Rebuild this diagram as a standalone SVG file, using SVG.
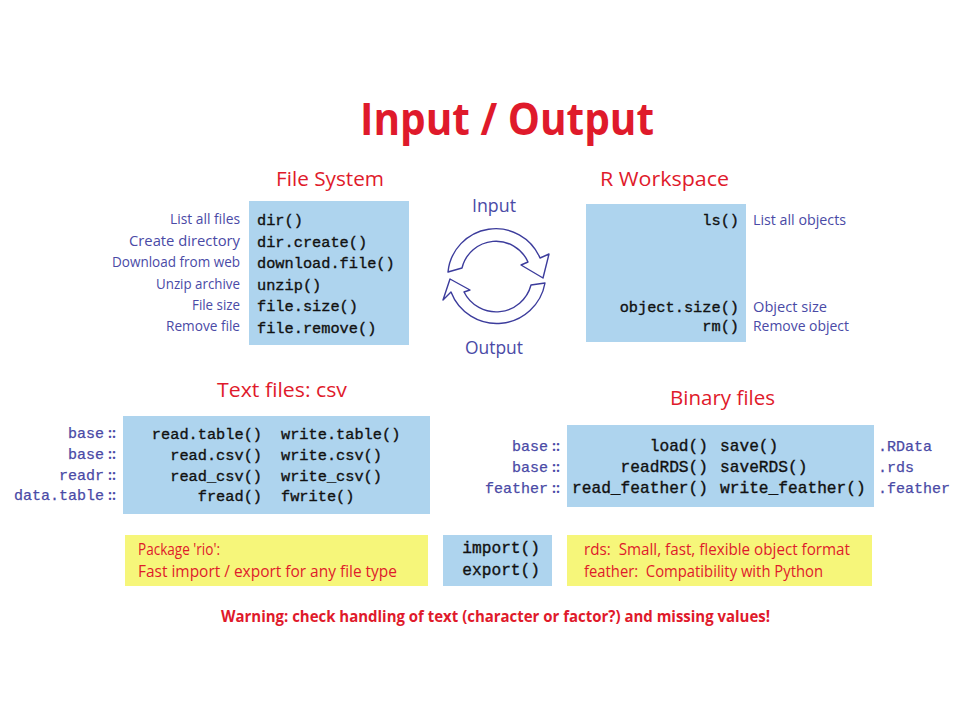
<svg xmlns="http://www.w3.org/2000/svg" width="960" height="720" viewBox="0 0 960 720">
<style>
.title{font-family:"Open Sans","Liberation Sans",sans-serif;font-weight:bold;font-size:44px;fill:#df1a2b}
.h{font-family:"Open Sans","Liberation Sans",sans-serif;font-size:20px;fill:#df1a2b}
.lbl{font-family:"Open Sans","Liberation Sans",sans-serif;font-size:14.5px;fill:#4a4aa6}
.io{font-family:"Open Sans","Liberation Sans",sans-serif;font-size:18px;fill:#4a4aa6}
.code{font-family:"Liberation Mono",monospace;font-size:15.3px;fill:#111;stroke:#111;stroke-width:0.35}
.codeL{font-family:"Liberation Mono",monospace;font-size:16.2px;fill:#111;stroke:#111;stroke-width:0.35}
.pkg{font-family:"Liberation Mono",monospace;font-size:15px;fill:#4a4aa6;stroke:#4a4aa6;stroke-width:0.25}
.sep{font-family:"Open Sans","Liberation Sans",sans-serif;font-weight:bold;font-size:14px;fill:#4a4aa6}
.box{fill:#aed4ee}
.note{fill:#f6f67a}
.nt{font-family:"Open Sans","Liberation Sans",sans-serif;font-size:15.5px;fill:#df1a2b}
.warn{font-family:"Open Sans","Liberation Sans",sans-serif;font-weight:bold;font-size:16px;fill:#df1a2b}
.arr{fill:#ffffff;stroke:#3c3c9c;stroke-width:1.4;stroke-linejoin:round}
</style>
<rect width="960" height="720" fill="#ffffff"/>
<g id="title">
<text class="title" x="360" y="135" textLength="294" lengthAdjust="spacingAndGlyphs">Input / Output</text>
</g>
<g id="file-system">
<text class="h" x="276" y="186" textLength="108" lengthAdjust="spacingAndGlyphs">File System</text>
<rect class="box" x="249" y="201" width="160" height="144"/>
<text class="code" x="257" y="225">dir()</text>
<text class="code" x="257" y="246.5">dir.create()</text>
<text class="code" x="257" y="268">download.file()</text>
<text class="code" x="257" y="289.5">unzip()</text>
<text class="code" x="257" y="311">file.size()</text>
<text class="code" x="257" y="332.5">file.remove()</text>
<text class="lbl" x="170" y="224" textLength="70" lengthAdjust="spacingAndGlyphs">List all files</text>
<text class="lbl" x="129" y="246" textLength="111" lengthAdjust="spacingAndGlyphs">Create directory</text>
<text class="lbl" x="112" y="267" textLength="128" lengthAdjust="spacingAndGlyphs">Download from web</text>
<text class="lbl" x="156" y="289" textLength="84" lengthAdjust="spacingAndGlyphs">Unzip archive</text>
<text class="lbl" x="192" y="310" textLength="48" lengthAdjust="spacingAndGlyphs">File size</text>
<text class="lbl" x="166" y="331" textLength="74" lengthAdjust="spacingAndGlyphs">Remove file</text>
</g>
<g id="r-workspace">
<text class="h" x="600" y="186" textLength="129" lengthAdjust="spacingAndGlyphs">R Workspace</text>
<rect class="box" x="586" y="204" width="160" height="138"/>
<text class="code" x="739" y="225" text-anchor="end">ls()</text>
<text class="code" x="739" y="312" text-anchor="end">object.size()</text>
<text class="code" x="739" y="331" text-anchor="end">rm()</text>
<text class="lbl" x="753" y="225" textLength="93" lengthAdjust="spacingAndGlyphs">List all objects</text>
<text class="lbl" x="753" y="312" textLength="74" lengthAdjust="spacingAndGlyphs">Object size</text>
<text class="lbl" x="753" y="331" textLength="96" lengthAdjust="spacingAndGlyphs">Remove object</text>
</g>
<g id="io-labels">
<text class="io" x="472" y="212" textLength="44" lengthAdjust="spacingAndGlyphs">Input</text>
<text class="io" x="465" y="354" textLength="58" lengthAdjust="spacingAndGlyphs">Output</text>
</g>
<g id="connectors">
<path class="arr" d="M 448,272 A 48 48 0 0 1 540,258 L 549,254 L 543,278 L 521,265 L 528,262 A 35 35 0 0 0 462,268 Z"/>
<path class="arr" d="M 545,283 A 49 49 0 0 1 451,292 L 443,300 L 450,279 L 470,290 L 464,292 A 36 36 0 0 0 531,285 Z"/>
</g>
<g id="text-files">
<text class="h" x="217" y="397" textLength="130" lengthAdjust="spacingAndGlyphs">Text files: csv</text>
<rect class="box" x="123" y="416" width="307" height="98"/>
<text class="code" x="262" y="439" text-anchor="end">read.table()</text>
<text class="code" x="262" y="460" text-anchor="end">read.csv()</text>
<text class="code" x="262" y="480.5" text-anchor="end">read_csv()</text>
<text class="code" x="262" y="501" text-anchor="end">fread()</text>
<text class="code" x="281" y="439">write.table()</text>
<text class="code" x="281" y="460">write.csv()</text>
<text class="code" x="281" y="480.5">write_csv()</text>
<text class="code" x="281" y="501">fwrite()</text>
<text class="pkg" x="104" y="438" text-anchor="end">base</text>
<text class="pkg" x="104" y="459" text-anchor="end">base</text>
<text class="pkg" x="104" y="479.5" text-anchor="end">readr</text>
<text class="pkg" x="104" y="500" text-anchor="end">data.table</text>
<text class="sep" x="108" y="438">::</text>
<text class="sep" x="108" y="459">::</text>
<text class="sep" x="108" y="479.5">::</text>
<text class="sep" x="108" y="500">::</text>
</g>
<g id="binary-files">
<text class="h" x="670" y="405" textLength="105" lengthAdjust="spacingAndGlyphs">Binary files</text>
<rect class="box" x="567" y="425" width="307" height="82"/>
<text class="codeL" x="708" y="451" text-anchor="end">load()</text>
<text class="codeL" x="708" y="472" text-anchor="end">readRDS()</text>
<text class="codeL" x="708" y="493" text-anchor="end">read_feather()</text>
<text class="codeL" x="720" y="451">save()</text>
<text class="codeL" x="720" y="472">saveRDS()</text>
<text class="codeL" x="720" y="493">write_feather()</text>
<text class="pkg" x="548" y="451" text-anchor="end">base</text>
<text class="pkg" x="548" y="472" text-anchor="end">base</text>
<text class="pkg" x="548" y="493" text-anchor="end">feather</text>
<text class="sep" x="552" y="451">::</text>
<text class="sep" x="552" y="472">::</text>
<text class="sep" x="552" y="493">::</text>
<text class="pkg" x="878" y="451">.RData</text>
<text class="pkg" x="878" y="472">.rds</text>
<text class="pkg" x="878" y="493">.feather</text>
</g>
<g id="rio-note">
<rect class="note" x="125" y="535" width="303" height="51"/>
<text class="nt" x="138" y="555" textLength="82" lengthAdjust="spacingAndGlyphs">Package 'rio':</text>
<text class="nt" x="138" y="577" textLength="259" lengthAdjust="spacingAndGlyphs">Fast import / export for any file type</text>
</g>
<g id="rio-functions">
<rect class="box" x="443" y="535" width="109" height="51"/>
<text class="codeL" x="540" y="553" text-anchor="end">import()</text>
<text class="codeL" x="540" y="575" text-anchor="end">export()</text>
</g>
<g id="format-note">
<rect class="note" x="567" y="535" width="305" height="51"/>
<text class="nt" x="584" y="555" xml:space="preserve" textLength="266" lengthAdjust="spacingAndGlyphs">rds:  Small, fast, flexible object format</text>
<text class="nt" x="584" y="577" xml:space="preserve" textLength="239" lengthAdjust="spacingAndGlyphs">feather:  Compatibility with Python</text>
</g>
<g id="warning">
<text class="warn" x="221" y="622" textLength="549" lengthAdjust="spacingAndGlyphs">Warning: check handling of text (character or factor?) and missing values!</text>
</g>
</svg>
